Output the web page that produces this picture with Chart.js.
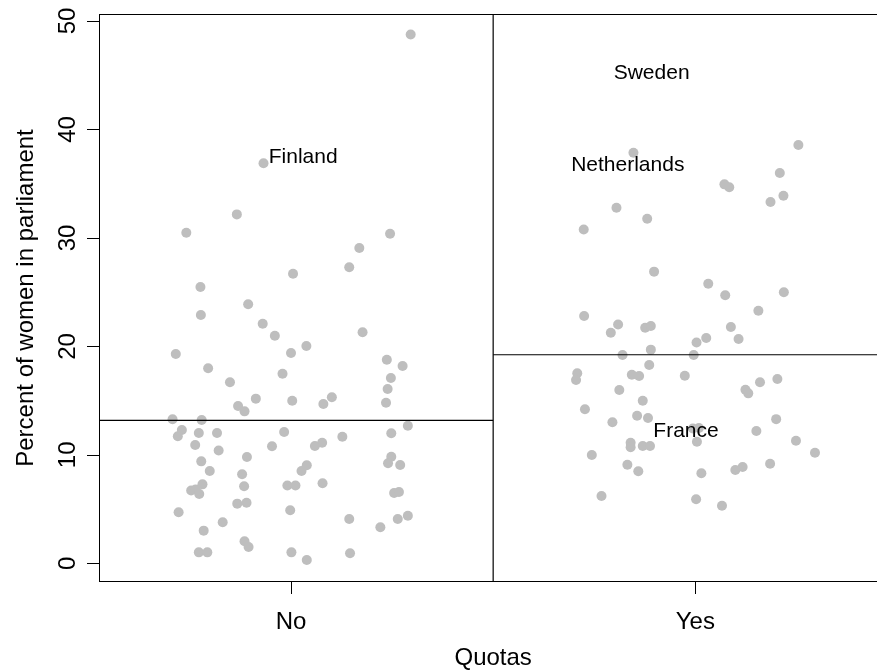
<!DOCTYPE html>
<html><head><meta charset="utf-8">
<script src="https://cdn.jsdelivr.net/npm/chart.js@4.4.1/dist/chart.umd.min.js"></script>
<style>
html,body{margin:0;padding:0;background:#fff;overflow:hidden;width:877px;height:671px}
#wrap{position:absolute;left:0;top:0;width:900px;height:671px}
canvas{display:block}
</style>
</head><body><div id="wrap"><canvas id="c" width="900" height="671" style="width:900px;height:671px"></canvas></div>
<script>
// ---- data ----
const categories = ['No', 'Yes'];
const xTitle = 'Quotas';
const yTitle = 'Percent of women in parliament';
const yTicks = [0, 10, 20, 30, 40, 50];

// jitter offsets (category units) and percent values, group "No"
const noJitter = [0.296,-0.068,-0.134,-0.259,0.245,0.169,0.144,0.005,-0.224,-0.106,
 -0.223,-0.070,-0.040,0.177,0.038,0.000,-0.285,0.237,0.276,-0.205,
 -0.021,0.247,-0.151,0.239,-0.087,0.101,0.003,0.080,0.235,-0.131,
 -0.115,-0.293,-0.221,0.289,-0.270,-0.280,-0.228,-0.183,-0.017,0.248,
 0.127,-0.237,-0.047,0.077,0.059,-0.179,-0.109,0.248,-0.222,0.240,
 0.270,0.039,-0.201,0.026,-0.121,-0.116,-0.219,-0.247,-0.236,-0.227,
 -0.009,0.011,0.078,0.255,0.267,-0.133,-0.110,-0.278,-0.002,0.144,
 0.264,0.289,-0.169,0.221,-0.216,-0.115,-0.105,-0.228,-0.207,0.001,
 0.146,0.039];
const noValues = [48.76,36.88,32.17,30.48,30.39,29.07,27.29,26.69,25.47,23.88,
 22.89,22.09,20.98,21.30,20.03,19.39,19.30,18.77,18.19,17.98,
 17.48,17.08,16.69,16.07,15.18,15.31,14.99,14.69,14.81,14.50,
 14.01,13.28,13.21,12.69,12.29,11.71,12.01,12.01,12.11,11.99,
 11.67,10.91,10.79,11.12,10.82,10.40,9.80,9.83,9.40,9.22,
 9.06,9.04,8.51,8.51,8.21,7.10,7.28,6.71,6.80,6.39,
 7.17,7.17,7.38,6.48,6.57,5.50,5.59,4.70,4.89,4.08,
 4.08,4.39,3.79,3.32,3.01,2.03,1.50,1.01,1.01,1.01,
 0.92,0.30];

// group "Yes"
const yesJitter = [-0.153,0.255,0.209,0.072,0.084,0.218,0.186,-0.195,-0.119,-0.276,
 -0.102,0.032,0.219,0.074,0.156,-0.275,-0.191,-0.209,-0.124,-0.110,
 0.088,0.107,0.003,0.027,-0.110,-0.180,-0.004,-0.114,-0.292,-0.295,
 -0.157,-0.139,-0.026,0.203,0.160,0.124,0.131,-0.188,-0.130,-0.273,
 -0.144,-0.117,-0.205,0.200,-0.006,0.009,0.004,0.151,0.249,-0.160,
 -0.160,-0.130,-0.112,0.296,-0.256,0.185,-0.168,-0.141,0.015,0.099,
 0.117,-0.232,0.002,0.066];
const yesValues = [37.86,38.57,35.99,34.94,34.67,33.89,33.31,32.79,31.77,30.78,
 26.89,25.78,24.99,24.71,23.29,22.80,22.02,21.26,21.72,21.88,
 21.79,20.68,20.36,20.77,19.70,19.21,19.21,18.28,17.52,16.90,
 17.38,17.27,17.30,16.99,16.69,16.00,15.67,15.98,14.99,14.20,
 13.60,13.40,13.00,13.29,12.43,12.47,11.20,12.20,11.30,11.12,
 10.70,10.81,10.81,10.20,9.98,9.18,9.09,8.49,8.30,8.60,
 8.88,6.21,5.90,5.31];

// group reference lines (horizontal)
const groupLines = [13.18, 19.23];

// country annotations
const annoText = ['Finland', 'Sweden', 'Netherlands', 'France'];
const annoX = [1.030, 1.892, 1.833, 1.977];
const annoY = [37.41, 45.22, 36.70, 12.15];

// ---- chart ----
const xMin = 0.5263, xMax = 2.4729;
const yMin = -1.678, yMax = 50.60;
const FONT = '"Liberation Sans", Arial, Helvetica, sans-serif';

const noPts = noValues.map((v, i) => ({x: 1 + noJitter[i], y: v}));
const yesPts = yesValues.map((v, i) => ({x: 2 + yesJitter[i], y: v}));

const decor = {
  id: 'decor',
  afterDraw(chart) {
    const ctx = chart.ctx;
    const {left, right, top, bottom} = chart.chartArea;
    const xs = chart.scales.x, ys = chart.scales.y;
    ctx.save();
    ctx.strokeStyle = '#000';
    ctx.lineWidth = 1;
    // frame
    ctx.strokeRect(left, top, right - left, bottom - top);
    // y ticks + labels
    ctx.fillStyle = '#000';
    ctx.font = '24px ' + FONT;
    yTicks.forEach(t => {
      const py = Math.round(ys.getPixelForValue(t)) + 0.5;
      ctx.beginPath(); ctx.moveTo(left - 12.5, py); ctx.lineTo(left, py); ctx.stroke();
      ctx.save();
      ctx.translate(75, ys.getPixelForValue(t));
      ctx.rotate(-Math.PI / 2);
      ctx.textAlign = 'center'; ctx.textBaseline = 'alphabetic';
      ctx.fillText(String(t), 0, 0);
      ctx.restore();
    });
    // x ticks + labels
    categories.forEach((c, i) => {
      const px = Math.round(xs.getPixelForValue(i + 1)) + 0.5;
      ctx.beginPath(); ctx.moveTo(px, bottom); ctx.lineTo(px, bottom + 12.5); ctx.stroke();
      ctx.textAlign = 'center'; ctx.textBaseline = 'alphabetic';
      ctx.fillText(c, xs.getPixelForValue(i + 1), 628.5);
    });
    // axis titles
    ctx.fillText(xTitle, xs.getPixelForValue(1.5), 665);
    ctx.save();
    ctx.translate(32.5, (top + bottom) / 2);
    ctx.rotate(-Math.PI / 2);
    ctx.textAlign = 'center';
    ctx.fillText(yTitle, 0, 0);
    ctx.restore();
    // annotations
    ctx.font = '21px ' + FONT;
    ctx.textAlign = 'center'; ctx.textBaseline = 'middle';
    annoText.forEach((t, i) => {
      ctx.fillText(t, xs.getPixelForValue(annoX[i]), ys.getPixelForValue(annoY[i]));
    });
    ctx.restore();
  }
};

const lineStyle = {type: 'line', showLine: true, borderColor: '#000', borderWidth: 1.2, pointRadius: 0, fill: false, order: 0};

new Chart(document.getElementById('c').getContext('2d'), {
  type: 'scatter',
  data: {
    datasets: [
      Object.assign({label: 'No line', data: [{x: xMin, y: groupLines[0]}, {x: 1.5, y: groupLines[0]}]}, lineStyle),
      Object.assign({label: 'Yes line', data: [{x: 1.5, y: groupLines[1]}, {x: xMax, y: groupLines[1]}]}, lineStyle),
      Object.assign({label: 'divider', data: [{x: 1.5, y: yMin}, {x: 1.5, y: yMax}]}, lineStyle),
      {label: categories[0], data: noPts, backgroundColor: '#BEBEBE', borderColor: '#BEBEBE', borderWidth: 0, pointRadius: 5, order: 1},
      {label: categories[1], data: yesPts, backgroundColor: '#BEBEBE', borderColor: '#BEBEBE', borderWidth: 0, pointRadius: 5, order: 1}
    ]
  },
  options: {
    responsive: false,
    animation: false,
    devicePixelRatio: 1,
    layout: {padding: {left: 99.5, top: 14.5, right: 13.5, bottom: 89.5}},
    scales: {
      x: {type: 'linear', min: xMin, max: xMax, display: false},
      y: {type: 'linear', min: yMin, max: yMax, display: false}
    },
    plugins: {legend: {display: false}, tooltip: {enabled: false}},
    elements: {line: {tension: 0}}
  },
  plugins: [decor]
});
</script></body></html>
